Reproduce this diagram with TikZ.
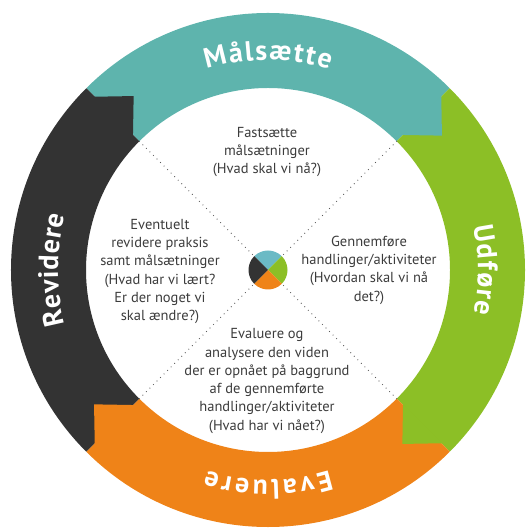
\documentclass[tikz,border=0pt]{standalone}
\usepackage{fontspec}
\usetikzlibrary{calc,decorations.text}
\newfontfamily\innerfam{PT Sans}
\newfontfamily\labfam{PT Sans}
\newcommand\labfont{\labfam\bfseries\fontsize{28pt}{28pt}\selectfont}
\definecolor{cteal}{HTML}{5EB4AD}
\definecolor{cgreen}{HTML}{8CBF26}
\definecolor{corange}{HTML}{EF8318}
\definecolor{cdark}{HTML}{333333}
\definecolor{cteallight}{HTML}{6BBAC5}
\definecolor{ctext}{HTML}{3C3C3C}
\tikzset{
  innertext/.style={align=center, text=ctext, inner sep=0pt,
    font={\innerfam\fontsize{14.5pt}{18.3pt}\selectfont}},
  dotline/.style={draw=gray!70!black, line width=1.2pt, dash pattern=on 0pt off 5pt, line cap=round},
}
\newcommand\ringseg[3]{% color, start, end
  \fill[#1] (#2:257pt) arc[start angle=#2, end angle=#3, radius=257pt]
    -- (#3:182pt) arc[start angle=#3, end angle=#2, radius=182pt] -- cycle;}
\newcommand\ringhead[2]{% color, joint angle
  \fill[#1] ($(#2:190pt)+(#2+90:1pt)$) -- ($(#2:246pt)+(#2+90:1pt)$)
    -- ($(#2:218pt)+(#2-90:28pt)$) -- cycle;}
\newcommand\ringlabel[2]{% text, mid angle
  \path[decorate, decoration={text along path, text align=center, text color=white,
     text={|\labfont|#1}}]
     (#2+70:210pt) arc[start angle=#2+70, end angle=#2-70, radius=210pt];}
\begin{document}
\begin{tikzpicture}
\useasboundingbox (-268pt,-259pt) rectangle (260pt,270pt);
% ring segments
\ringseg{cteal}{135}{45}
\ringseg{cgreen}{45}{-45}
\ringseg{corange}{-45}{-135}
\ringseg{cdark}{-135}{-225}
% arrow heads
\ringhead{cteal}{45}
\ringhead{cgreen}{-45}
\ringhead{corange}{-135}
\ringhead{cdark}{135}
% labels (letter-spaced)
\ringlabel{M{\kern1.8pt}å{\kern1.8pt}l{\kern1.8pt}s{\kern1.8pt}æ{\kern1.8pt}t{\kern1.8pt}t{\kern1.8pt}e}{90}
\ringlabel{U{\kern1.5pt}d{\kern1.5pt}f{\kern1.5pt}ø{\kern1.5pt}r{\kern1.5pt}e}{0}
\ringlabel{E{\kern3pt}v{\kern3pt}a{\kern3pt}l{\kern3pt}u{\kern3pt}e{\kern3pt}r{\kern3pt}e}{-90}
\ringlabel{R{\kern0.6pt}e{\kern0.6pt}v{\kern0.6pt}i{\kern0.6pt}d{\kern0.6pt}e{\kern0.6pt}r{\kern0.6pt}e}{180}
% dotted diagonals
\coordinate (o1) at (45:182pt);  \coordinate (i1) at (45:20pt);
\coordinate (o2) at (135:182pt); \coordinate (i2) at (135:20pt);
\coordinate (o3) at (225:182pt); \coordinate (i3) at (225:20pt);
\coordinate (o4) at (315:182pt); \coordinate (i4) at (315:20pt);
\draw[dotline] (o1) -- (i1);
\draw[dotline] (o2) -- (i2);
\draw[dotline] (o3) -- (i3);
\draw[dotline] (o4) -- (i4);
% centre disc
\fill[cteallight] (0,0) -- (45:19.5pt) arc[start angle=45, end angle=135, radius=19.5pt] -- cycle;
\fill[cgreen] (0,0) -- (-45:19.5pt) arc[start angle=-45, end angle=45, radius=19.5pt] -- cycle;
\fill[corange] (0,0) -- (-135:19.5pt) arc[start angle=-135, end angle=-45, radius=19.5pt] -- cycle;
\fill[cdark] (0,0) -- (135:19.5pt) arc[start angle=135, end angle=225, radius=19.5pt] -- cycle;
% inner texts
\node[innertext] (ttop) at (-1pt,118pt) {Fastsætte\\målsætninger\\(Hvad skal vi nå?)};
\node[innertext] (tright) at (101pt,0pt) {Gennemføre\\handlinger/aktiviteter\\(Hvordan skal vi nå\\det?)};
\node[innertext] (tleft) at (-108pt,-1.5pt) {Eventuelt\\revidere praksis\\samt målsætninger\\(Hvad har vi lært?\\Er der noget vi\\skal ændre?)};
\node[innertext] (tbottom) at (-1pt,-111pt) {Evaluere og\\analysere den viden\\der er opnået på baggrund\\af de gennemførte\\handlinger/aktiviteter\\(Hvad har vi nået?)};
\end{tikzpicture}
\end{document}
